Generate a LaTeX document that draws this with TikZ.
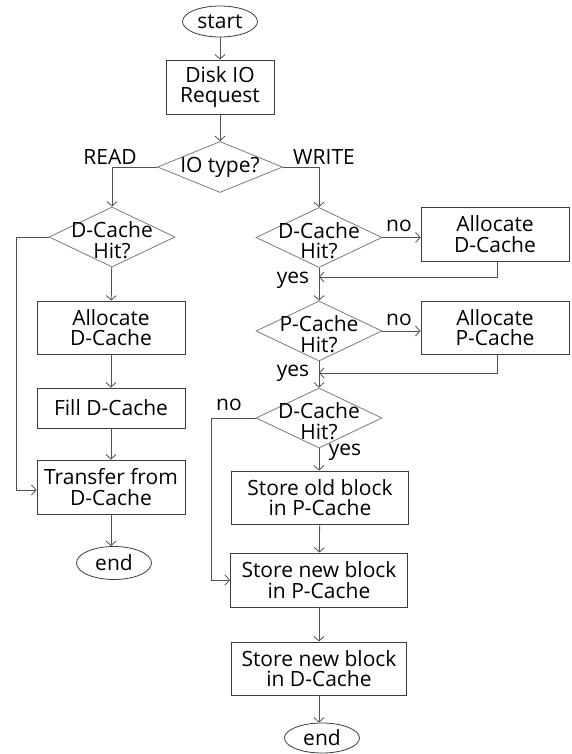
\documentclass[tikz,border=0pt]{standalone}
\usepackage{fontspec}
\setmainfont{Open Sans}
\usepackage{xcolor}
\usepackage{tikz}
\usetikzlibrary{shapes,arrows.meta,positioning}
\definecolor{boxgray}{HTML}{3C3C3C}
\definecolor{diagray}{HTML}{7A7A7A}
\definecolor{arrgray}{HTML}{505050}
\tikzset{ell/.style={ellipse,draw=boxgray,line width=0.8pt,minimum width=75pt,minimum height=31pt,inner sep=0pt},
box/.style={rectangle,draw=boxgray,line width=0.9pt,minimum width=148pt,minimum height=54pt,align=center,inner sep=0pt},
dec/.style={diamond,draw=diagray,line width=0.8pt,minimum width=126pt,minimum height=60pt,inner sep=0pt},
lbl/.style={inner sep=0pt}}

\begin{document}
\begin{tikzpicture}[x=1pt,y=-1pt,>={Straight Barb[length=4.5pt,width=10pt]},font=\fontsize{21}{20.5}\selectfont]
        \useasboundingbox (0,0) rectangle (572,754);
        \node[ell] (start) at (220,21.5) {start};
        \node[box,minimum width=108pt] (req) at (220,87) {Disk IO\\Request};
        \node[dec,minimum width=125pt,minimum height=51pt,label={[align=center]center:IO type?}] (iotype) at (220,167) {};
        \node[lbl] (read) at (110,157) {READ};
        \node[lbl] (write) at (324,157) {WRITE};

        % read side
        \node[dec,label={[align=center,yshift=-3pt]center:{D-Cache\\Hit?}}] (ldc) at (112,237) {};
        \node[box,minimum height=53pt] (lalloc) at (111,327.5) {Allocate\\D-Cache};
        \node[box,minimum height=40pt] (lfill) at (111,408) {Fill D-Cache};
        \node[box] (ltrans) at (111,487) {Transfer from\\D-Cache};
        \node[ell,minimum height=33pt] (lend) at (114,563) {end};

        % write side
        \node[dec,label={[align=center,yshift=-3pt]center:{D-Cache\\Hit?}}] (rdc1) at (319,237.5) {};
        \node[box] (ralloc1) at (495,234) {Allocate\\D-Cache};
        \node[dec,label={[align=center,yshift=-3pt]center:{P-Cache\\Hit?}}] (rpc) at (319,331) {};
        \node[box,minimum height=53pt] (ralloc2) at (495,327.5) {Allocate\\P-Cache};
        \node[dec,label={[align=center,yshift=-3pt]center:{D-Cache\\Hit?}}] (rdc2) at (319,418) {};
        \node[box,minimum width=177pt,minimum height=53pt] (rold) at (320,497.5) {Store old block\\in P-Cache};
        \node[box,minimum width=177pt] (rnewp) at (319,580) {Store new block\\in P-Cache};
        \node[box,minimum width=175pt,minimum height=53pt] (rnewd) at (319,668.5) {Store new block\\in D-Cache};
        \node[ell,minimum height=30pt] (rend) at (322,738) {end};
        \coordinate (jn1) at (319,277);
        \coordinate (jn2) at (319,373);

        \node[lbl] (no1) at (399,226) {no};
        \node[lbl] (no2) at (399,320) {no};
        \node[lbl] (no3) at (229,405) {no};
        \node[lbl] (yes1) at (293,280) {yes};
        \node[lbl] (yes2) at (293,373) {yes};
        \node[lbl] (yes3) at (345,452) {yes};

        \begin{scope}[draw=arrgray,line width=0.8pt]
        \draw [->] (start) -- (req);
        \draw [->] (req) -- (iotype);
        \draw [->] (iotype.west) -| (ldc.north);
        \draw [->] (iotype.east) -| (rdc1.north);

        \draw [->] (ldc) -- (lalloc);
        \draw [->] (lalloc) -- (lfill);
        \draw [->] (lfill) -- (ltrans);
        \draw [->] (ltrans.south) -- (ltrans.south |- lend.north);
        \draw [->] (ldc.west) -- ++(-32,0) |- ([yshift=-3pt]ltrans.west);

        \draw [->] (rdc1.east) -- (rdc1.east -| ralloc1.west);
        \draw [->] ([xshift=2pt]ralloc1.south) |- (jn1);
        \draw [->] (rdc1) -- (rpc);
        \draw [->] (rpc.east) -- (rpc.east -| ralloc2.west);
        \draw [->] ([xshift=2pt]ralloc2.south) |- (jn2);
        \draw [->] (rpc) -- (rdc2);
        \draw [->] (rdc2.south) -- (rdc2.south |- rold.north);
        \draw [->] (rdc2.west) -- ++(-44,0) |- (rnewp.west);
        \draw [->] (rold) -- (rnewp);
        \draw [->] (rnewp) -- (rnewd);
        \draw [->] (rnewd.south) -- (rnewd.south |- rend.north);
        \end{scope}
    \end{tikzpicture}
\end{document}
